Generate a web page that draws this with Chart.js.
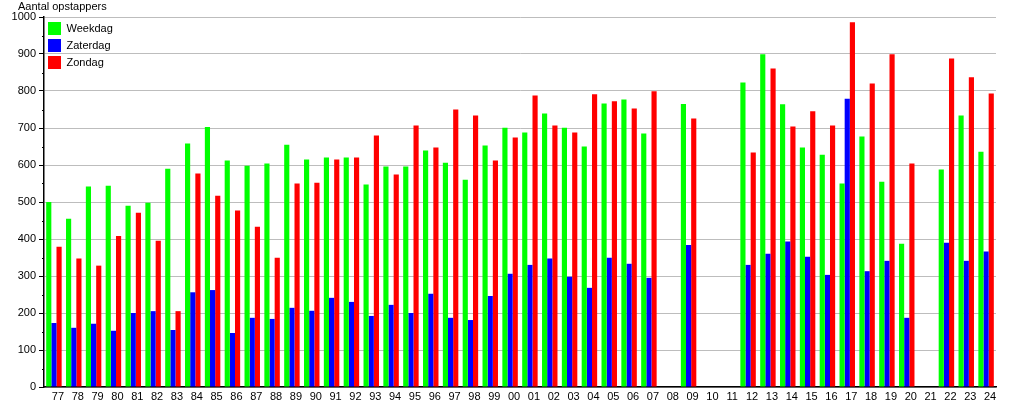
<!DOCTYPE html>
<html>
<head>
<meta charset="utf-8">
<script src="https://cdn.jsdelivr.net/npm/chart.js@4"></script>
<style>
  html, body { margin: 0; padding: 0; background: #fff; }
  #wrap { width: 1015px; height: 400px; }
</style>
</head>
<body>
<div id="wrap"><canvas id="barChart"></canvas></div>
<script>
const years = ['77','78','79','80','81','82','83','84','85','86','87','88','89','90','91','92','93','94','95','96','97','98','99',
               '00','01','02','03','04','05','06','07','08','09','10','11','12','13','14','15','16','17','18','19','20','21','22','23','24'];
const weekdag = [500,455,542,544,490,498,590,658,703,612,598,604,655,615,620,620,547,596,596,639,606,560,653,
                 701,688,739,701,650,766,777,685,null,765,null,null,823,899,764,647,628,550,677,555,387,null,588,734,636];
const zaterdag = [173,160,171,152,200,205,154,256,262,146,187,184,214,206,241,230,192,222,200,252,187,181,246,
                  306,330,347,298,268,349,333,295,null,384,null,null,330,360,393,352,303,779,313,341,187,null,390,341,366];
const zondag = [379,347,328,408,471,395,205,577,517,477,433,349,550,552,615,620,680,574,707,647,750,734,612,
                674,788,707,688,791,772,753,799,null,726,null,null,634,861,704,745,707,986,820,899,604,null,888,837,793];

const fontFam = '"Liberation Sans", Arial, sans-serif';
Chart.defaults.font.family = fontFam;
Chart.defaults.font.size = 11;
Chart.defaults.color = '#000';

// y title, small in-between ticks on the y axis, legend pushed down a bit
const extras = {
    id: 'extras',
    afterLayout(chart) {
        chart.legend.top += 18;
        chart.legend.bottom += 18;
    },
    afterDraw(chart) {
        const ctx = chart.ctx;
        const y = chart.scales.y;
        ctx.save();
        ctx.font = '11px ' + fontFam;
        ctx.fillStyle = '#000';
        ctx.textBaseline = 'middle';
        ctx.fillText('Aantal opstappers', 18, 7);
        ctx.strokeStyle = '#000';
        ctx.lineWidth = 1;
        for (let v = 50; v < 1000; v += 100) {
            const py = Math.round(y.getPixelForValue(v)) + 0.5;
            ctx.beginPath();
            ctx.moveTo(y.right - 2, py);
            ctx.lineTo(y.right, py);
            ctx.stroke();
        }
        ctx.restore();
    }
};

var bar = document.getElementById('barChart').getContext('2d');
var myChart = new Chart(bar, {
    type: 'bar',
    data: {
        labels: years,
        datasets: [
            { label: 'Weekdag', data: weekdag, backgroundColor: '#00ff00' },
            { label: 'Zaterdag', data: zaterdag, backgroundColor: '#0000ff' },
            { label: 'Zondag', data: zondag, backgroundColor: '#ff0000' }
        ]
    },
    options: {
        responsive: true,
        maintainAspectRatio: false,
        animation: false,
        datasets: {
            bar: { categoryPercentage: 0.78, barPercentage: 1.0 }
        },
        layout: { padding: { top: 17, right: 19, left: 0, bottom: 0 } },
        plugins: {
            tooltip: { enabled: false },
            legend: {
                position: 'chartArea',
                align: 'start',
                labels: {
                    boxWidth: 13,
                    boxHeight: 13,
                    padding: 4,
                    font: { size: 11 }
                }
            }
        },
        scales: {
            x: {
                grid: { display: false, drawTicks: false },
                border: { color: '#000', width: 1.5 },
                ticks: { padding: 3, labelOffset: 4, maxRotation: 0, autoSkip: false },
                afterFit: s => { s.height = 13; }
            },
            y: {
                min: 0,
                max: 1000,
                grid: { color: '#bdbdbd', tickColor: '#000', tickLength: 5 },
                border: { color: '#000', width: 1.5 },
                ticks: { stepSize: 100, padding: 3, callback: v => String(v) },
                afterFit: s => { s.width = 44; }
            }
        }
    },
    plugins: [extras]
});
</script>
</body>
</html>
